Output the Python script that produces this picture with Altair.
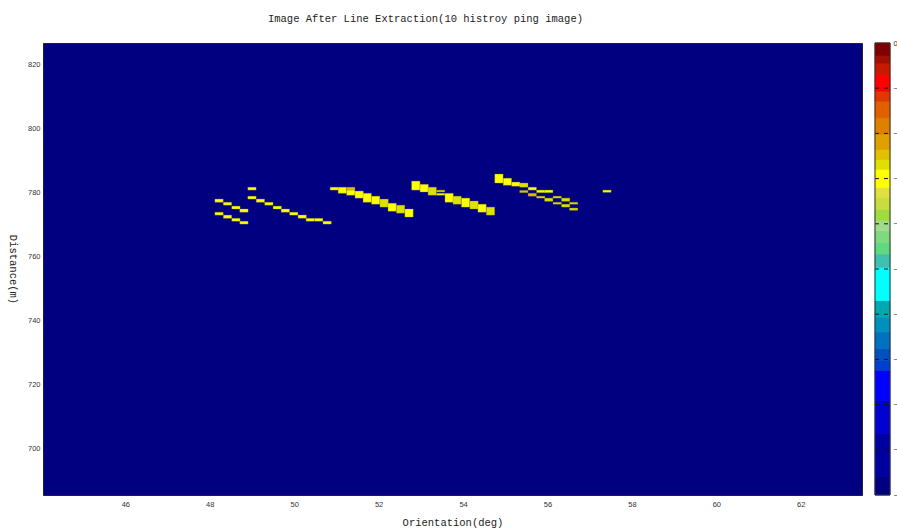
import altair as alt
import pandas as pd

title_text = "Image After Line Extraction(10 histroy ping image)"
x_title = "Orientation(deg)"
y_title = "Distance(m)"
x_ticks = [46, 48, 50, 52, 54, 56, 58, 60, 62]
y_ticks = [700, 720, 740, 760, 780, 800, 820]
x_domain = [44.05, 63.45]
y_domain = [685.66, 826.55]

Y, D, O = -15.0, -13.4, -12.3

# extracted cells: orientation centre (deg), distance top / bottom (m), level
cell_orient = [48.22, 48.42, 48.62, 48.81, 48.22, 48.42, 48.62, 48.81,
               49.00,
               49.00, 49.20, 49.40, 49.60, 49.79, 49.99, 50.19, 50.38, 50.58, 50.78,
               50.95, 51.14, 51.34, 51.34, 51.54, 51.73, 51.93, 52.13, 52.32, 52.52, 52.72,
               52.88, 53.08, 53.27, 53.47, 53.47, 53.67, 53.86, 54.06, 54.26, 54.45, 54.65,
               54.85, 55.05, 55.25, 55.44, 55.44, 55.64, 55.64, 55.84, 56.03, 55.84, 56.03,
               56.23, 56.23, 56.43, 56.43, 56.62, 56.62,
               57.41]
cell_top = [777.9, 776.9, 775.7, 774.8, 773.8, 772.9, 771.9, 771.0,
            781.6,
            778.8, 777.9, 776.9, 775.7, 774.8, 773.8, 772.9, 771.9, 771.9, 771.0,
            781.6, 781.6, 781.6, 780.7, 780.4, 779.7, 778.8, 777.9, 776.6, 776.0, 774.8,
            783.5, 782.5, 781.6, 780.7, 779.7, 779.7, 778.8, 778.2, 777.3, 776.3, 775.4,
            785.7, 784.4, 783.2, 782.9, 780.6, 781.6, 779.7, 780.7, 780.7, 778.8, 778.2,
            778.8, 776.9, 778.2, 776.3, 776.9, 775.1,
            780.7]
cell_bottom = [776.9, 776.0, 774.8, 773.8, 772.9, 771.9, 771.0, 770.1,
               780.7,
               777.9, 776.9, 776.0, 774.8, 773.8, 772.9, 771.9, 771.0, 771.0, 770.1,
               780.7, 779.7, 780.7, 779.1, 778.2, 776.9, 776.3, 775.4, 774.1, 773.5, 772.3,
               780.7, 780.1, 779.1, 780.1, 779.1, 776.9, 776.3, 775.4, 774.8, 773.8, 772.9,
               782.9, 782.2, 781.9, 781.6, 779.9, 780.7, 778.8, 779.9, 779.9, 778.2, 777.2,
               778.2, 776.3, 777.2, 775.4, 776.3, 774.4,
               780.0]
cell_level = [Y, Y, Y, Y, Y, Y, Y, Y,
              Y,
              Y, Y, Y, Y, Y, Y, Y, Y, Y, Y,
              Y, Y, O, Y, Y, Y, Y, D, Y, D, Y,
              Y, Y, D, O, Y, Y, D, Y, D, Y, D,
              Y, Y, Y, D, O, Y, O, Y, Y, D, D,
              D, D, D, D, D, D,
              Y]

# colour bar bands (ascending) and colours
cbar_bounds = [-50, -47.95, -43.18, -39.51, -36.2, -35.1, -33.81, -31.97, -30.32,
               -28.49, -24.81, -23.34, -22.05, -20.77, -19.67, -18.38, -17.09,
               -15.99, -13.97, -12.87, -11.77, -10.11, -8.27, -6.44, -5.34, -3.5,
               -2.21, -1.37, 0]
cbar_colors = ["#000080", "#0000A0", "#0000D0", "#0000FF", "#0040D0", "#0050C0",
               "#0070C0", "#0090C0", "#00A8B0", "#00FFFF", "#40C0B0", "#60D880",
               "#80D880", "#A0DC90", "#A0DC40", "#C8DC40", "#E0E040", "#FFFF00",
               "#E0E000", "#E0C000", "#E0A000", "#E08000", "#E06000", "#E03800",
               "#FF0000", "#C81800", "#A01000", "#800000"]
cbar_ticks = [0, -5, -10, -15, -20, -25, -30, -35, -40, -45, -50]
cbar_dashes = [-5, -10, -15, -20, -25, -30, -35, -40, -45]

color_scale = alt.Scale(type="threshold", domain=cbar_bounds[1:-1], range=cbar_colors)

cells = pd.DataFrame({"orient": cell_orient, "top": cell_top,
                      "bottom": cell_bottom, "level": cell_level})
half = 0.0985

cell_layer = alt.Chart(cells).transform_calculate(
    x0=f"datum.orient - {half}", x1=f"datum.orient + {half}"
).mark_rect(strokeWidth=0.6, strokeOpacity=0.5).encode(
    x=alt.X("x0:Q", scale=alt.Scale(domain=x_domain, nice=False, zero=False),
            axis=alt.Axis(values=x_ticks, title=x_title, labelPadding=5, titlePadding=10)),
    x2="x1:Q",
    y=alt.Y("top:Q", scale=alt.Scale(domain=y_domain, nice=False, zero=False),
            axis=alt.Axis(values=y_ticks, title=y_title, labelPadding=3, titlePadding=10,
                          titleAngle=90, titleBaseline="top")),
    y2="bottom:Q",
    color=alt.Color("level:Q", scale=color_scale, legend=None),
    stroke=alt.value("#8a8a30"),
)

cb_x = alt.Scale(domain=[0, 1], range=[832, 847])
cb_y = alt.Scale(domain=[-50, 0], nice=False, zero=False)

bands = pd.DataFrame({"lo": cbar_bounds[:-1], "hi": cbar_bounds[1:]})
band_layer = alt.Chart(bands).transform_calculate(
    level="(datum.lo + datum.hi) / 2", c0="0", c1="1"
).mark_rect(strokeWidth=0.8).encode(
    x=alt.X("c0:Q", scale=cb_x, axis=None),
    x2="c1:Q",
    y=alt.Y("lo:Q", scale=cb_y,
            axis=alt.Axis(orient="right", values=cbar_ticks, offset=28, title=None,
                          labelPadding=3, labelFlush=False, labelOverlap=False)),
    y2="hi:Q",
    color=alt.Color("level:Q", scale=color_scale, legend=None),
    stroke=alt.Stroke("level:Q", scale=color_scale, legend=None),
)

dash_layer = alt.Chart(pd.DataFrame({"t": cbar_dashes})).transform_calculate(
    c0="0", c1="1"
).mark_rule(color="#111", strokeWidth=1, strokeDash=[4, 5]).encode(
    x=alt.X("c0:Q", scale=cb_x, axis=None),
    x2="c1:Q",
    y=alt.Y("t:Q", scale=cb_y),
)

border_layer = alt.Chart(pd.DataFrame({"lo": [cbar_bounds[0]], "hi": [cbar_bounds[-1]]})).transform_calculate(
    c0="0", c1="1"
).mark_rect(fill="transparent", stroke="#333", strokeWidth=1).encode(
    x=alt.X("c0:Q", scale=cb_x, axis=None),
    x2="c1:Q",
    y=alt.Y("lo:Q", scale=cb_y),
    y2="hi:Q",
)

colorbar = alt.layer(band_layer, dash_layer, border_layer)

chart = alt.layer(cell_layer, colorbar).resolve_scale(
    x="independent", y="independent", color="shared"
).properties(
    width=819, height=452,
    padding={"left": 43, "top": 43, "right": 35, "bottom": 36},
    autosize=alt.AutoSizeParams(type="none"),
    title=alt.TitleParams(title_text, font="Liberation Mono", fontSize=10.5,
                          fontWeight="normal", color="#222", anchor="middle",
                          dx=-27, offset=15),
).configure_view(
    fill="#000080", stroke="#222", strokeWidth=1
).configure_axis(
    labelFont="Liberation Sans", labelFontSize=7.5, labelColor="#333",
    titleFont="Liberation Mono", titleFontSize=10.5, titleFontWeight="normal",
    titleColor="#222", grid=False, domain=False, ticks=False
)

chart.save("out.html", embed_options={"renderer": "svg", "actions": False})
